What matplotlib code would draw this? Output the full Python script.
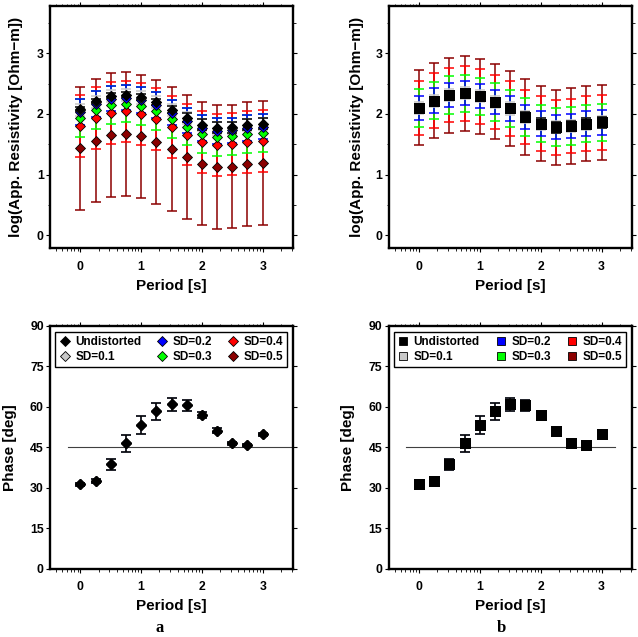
import numpy as np
import matplotlib
matplotlib.use('Agg')
import matplotlib.pyplot as plt
from matplotlib.lines import Line2D
from matplotlib.ticker import FixedLocator

plt.rcParams['font.family'] = ['Liberation Sans', 'DejaVu Sans']
plt.rcParams['font.weight'] = 'bold'
plt.rcParams['axes.labelweight'] = 'bold'

# ---------------- data ----------------
log_period = [0.0, 0.25, 0.5, 0.75, 1.0, 1.25, 1.5, 1.75, 2.0, 2.25, 2.5, 2.75, 3.0]
xtick_labels = ['0', '1', '2', '3']

series_labels = ['Undistorted', 'SD=0.1', 'SD=0.2', 'SD=0.3', 'SD=0.4', 'SD=0.5']
series_colors = ['#000000', '#c8c8c8', '#0000ff', '#00ff00', '#ff0000', '#8b0000']

# Panel a: log apparent resistivity (mean of distorted data)
rho_a_undist = [2.08, 2.21, 2.30, 2.32, 2.28, 2.20, 2.07, 1.94, 1.82, 1.77, 1.78, 1.82, 1.84]
rho_a_sd01 = [2.07, 2.20, 2.29, 2.31, 2.27, 2.19, 2.06, 1.93, 1.81, 1.76, 1.77, 1.81, 1.83]
rho_a_sd02 = [2.03, 2.16, 2.25, 2.27, 2.23, 2.15, 2.02, 1.89, 1.77, 1.72, 1.73, 1.77, 1.79]
rho_a_sd03 = [1.93, 2.06, 2.15, 2.17, 2.13, 2.05, 1.92, 1.79, 1.67, 1.62, 1.63, 1.67, 1.69]
rho_a_sd04 = [1.80, 1.93, 2.02, 2.04, 2.00, 1.92, 1.79, 1.66, 1.54, 1.49, 1.50, 1.54, 1.56]
rho_a_sd05 = [1.43, 1.56, 1.65, 1.67, 1.63, 1.54, 1.42, 1.29, 1.18, 1.12, 1.13, 1.17, 1.19]
rho_undist_err = [0.03, 0.03, 0.04, 0.04, 0.05, 0.05, 0.06, 0.08, 0.09, 0.09, 0.09, 0.09, 0.09]
rho_a_sd_err = [0.10, 0.21, 0.31, 0.51, 1.02]          # SD=0.1 .. SD=0.5

# Panel b: log apparent resistivity (log-mean of distorted data)
rho_b_undist = [2.10, 2.22, 2.31, 2.34, 2.29, 2.20, 2.09, 1.95, 1.84, 1.78, 1.80, 1.84, 1.86]
rho_b_sd_err = [0.10, 0.20, 0.31, 0.45, 0.62]          # SD=0.1 .. SD=0.5

# Phase (identical for all series)
phase = [31.3, 32.6, 38.6, 46.4, 53.4, 58.3, 60.9, 60.6, 56.9, 51.1, 46.4, 45.7, 49.8]
phase_err = [0.6, 0.8, 2.2, 3.0, 3.3, 3.2, 2.4, 2.0, 1.0, 0.9, 0.7, 0.6, 0.6]

# ---------------- figure ----------------
W, H = 638, 637
fig = plt.figure(figsize=(W / 100, H / 100), dpi=100)


def add_ax(x0, y0, x1, y1):
    return fig.add_axes([x0 / W, 1 - y1 / H, (x1 - x0) / W, (y1 - y0) / H])


ax_ra = add_ax(50, 6, 293, 248.5)
ax_rb = add_ax(388.5, 6, 632, 248.5)
ax_pa = add_ax(50, 326, 293, 568.5)
ax_pb = add_ax(388.5, 326, 632, 568.5)

minor_x = [d + np.log10(k) for d in range(-1, 4) for k in range(2, 10)]
minor_x = [m for m in minor_x if -0.5 <= m <= 3.5]


def style(ax, ylabel, ylabel_x):
    ax.set_xlim(-0.5, 3.5)
    ax.set_xticks([0, 1, 2, 3])
    ax.set_xticklabels(xtick_labels)
    ax.xaxis.set_minor_locator(FixedLocator(minor_x))
    ax.tick_params(which='both', direction='out', top=True, right=True,
                   labeltop=False, labelright=False, labelsize=8.8)
    ax.tick_params(which='major', length=3, width=0.8)
    ax.tick_params(which='minor', length=1.8, width=0.6)
    ax.tick_params(axis='y', pad=1.5)
    ax.tick_params(axis='x', pad=6)
    for s in ax.spines.values():
        s.set_linewidth(1.7)
    ax.set_xlabel('Period [s]', fontsize=11)
    ax.xaxis.set_label_coords(0.5, -0.125)
    ax.set_ylabel(ylabel, fontsize=11, va='center')
    ax.yaxis.set_label_coords(ylabel_x, 0.5)


def rho_panel(ax, centers, errs, marker, ms):
    x = log_period
    n = len(series_labels)
    for i in range(n - 1, -1, -1):
        ax.errorbar(x, centers[i], yerr=errs[i], fmt='none', ecolor=series_colors[i],
                    elinewidth=1.1, capsize=3.5, capthick=1.1, zorder=2 + (n - i) * 0.01)
    for i in range(n - 1, -1, -1):
        ax.plot(x, centers[i], ls='none', marker=marker, ms=ms, mfc=series_colors[i],
                mec='black', mew=0.6, zorder=3 + (n - i) * 0.01)


# Panel a resistivity
centers_a = [rho_a_undist, rho_a_sd01, rho_a_sd02, rho_a_sd03, rho_a_sd04, rho_a_sd05]
errs_a = [rho_undist_err] + rho_a_sd_err
rho_panel(ax_ra, centers_a, errs_a, 'D', 5.2)

# Panel b resistivity
centers_b = [rho_b_undist] * 6
errs_b = [rho_undist_err] + rho_b_sd_err
rho_panel(ax_rb, centers_b, errs_b, 's', 6.5)

for ax, lx in ((ax_ra, -0.14), (ax_rb, -0.13)):
    ax.set_ylim(-0.22, 3.78)
    ax.set_yticks([0, 1, 2, 3])
    ax.set_yticks(np.arange(-0.0, 3.8, 0.5), minor=True)
    style(ax, 'log(App. Resistivity [Ohm\u2212m])', lx)


def phase_panel(ax, marker, ms, hl_range):
    x = log_period
    n = len(series_labels)
    ax.plot(hl_range, [45, 45], color='#404040', lw=0.8, zorder=1)
    for i in range(n - 1, -1, -1):
        ax.errorbar(x, phase, yerr=phase_err, fmt='none', ecolor=series_colors[i],
                    elinewidth=1.1, capsize=3.5, capthick=1.1, zorder=2 + (n - i) * 0.01)
    for i in range(n - 1, -1, -1):
        ax.plot(x, phase, ls='none', marker=marker, ms=ms, mfc=series_colors[i],
                mec='black', mew=0.6, zorder=3 + (n - i) * 0.01)
    handles = [Line2D([], [], ls='none', marker=marker, ms=ms * 0.95, mfc=c,
                      mec='black', mew=0.6) for c in series_colors]
    leg = ax.legend(handles, series_labels, ncol=3, loc='upper left',
                    bbox_to_anchor=(0.021, 0.0, 0.955, 0.975), mode='expand',
                    fontsize=8.5, handlelength=0.9, handletextpad=0.45,
                    borderpad=0.35, labelspacing=0.25, columnspacing=0.6,
                    fancybox=False, framealpha=1, edgecolor='black',
                    borderaxespad=0)
    leg.get_frame().set_linewidth(1.0)
    ax.set_ylim(0, 90)
    ax.set_yticks(np.arange(0, 91, 15))


phase_panel(ax_pa, 'D', 5.2, [-0.2, 3.5])
phase_panel(ax_pb, 's', 6.5, [-0.22, 3.22])
style(ax_pa, 'Phase [deg]', -0.165)
style(ax_pb, 'Phase [deg]', -0.165)

fig.text(160 / W, 1 - 628 / H, 'a', family=['Liberation Serif', 'DejaVu Serif'],
         weight='bold', fontsize=12, ha='center', va='center')
fig.text(501 / W, 1 - 628 / H, 'b', family=['Liberation Serif', 'DejaVu Serif'],
         weight='bold', fontsize=12, ha='center', va='center')

fig.savefig('out.png', dpi=100)
